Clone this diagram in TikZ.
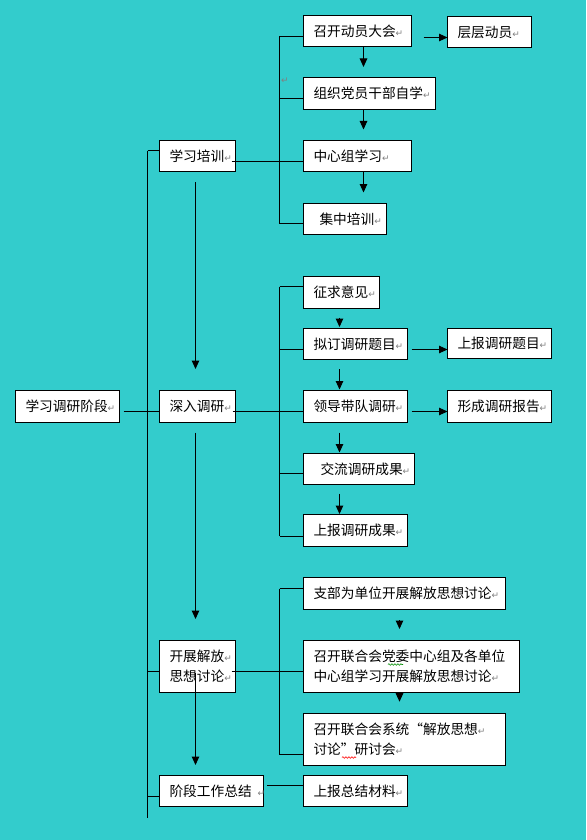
\documentclass[tikz,border=0pt]{standalone}
\usepackage{fontspec}
\newfontfamily\cjk{Noto Sans CJK SC}
\newfontfamily\dejavu{DejaVu Sans}
\usetikzlibrary{arrows.meta,calc,decorations.pathmorphing}
\definecolor{bg}{RGB}{51,204,204}
\definecolor{markgray}{RGB}{128,128,128}
\newcommand\retmark{{\dejavu\fontsize{9}{9}\selectfont\textcolor{markgray}{↵}}}
\begin{document}
\begin{tikzpicture}[x=1pt,y=-1pt,
  box/.style={draw, fill=white, line width=1pt, anchor=north west, inner xsep=10pt, inner ysep=0pt, outer sep=0pt, align=left, font=\cjk\fontsize{13.7}{20}\selectfont},
  ln/.style={line width=1pt},
  arr/.style={line width=1pt, -{Triangle[width=7.5pt,length=8.5pt]}},
  wavy/.style={line width=0.6pt, decorate, decoration={snake, amplitude=0.8pt, segment length=3pt}}]
\fill[bg] (0,0) rectangle (586,840);
\useasboundingbox (0,0) rectangle (586,840);

% boxes
\node[box, text width=84pt, minimum height=32pt] (A) at (15.5,390.5) {学习调研阶段\retmark};
\node[box, text width=56pt, minimum height=31pt] (B1) at (159.5,140.5) {学习培训\retmark};
\node[box, text width=56pt, minimum height=32pt] (B2) at (159.5,390.5) {深入调研\retmark};
\node[box, text width=56pt, minimum height=52pt] (B3) at (159.5,640.5) {开展解放\retmark\\思想讨论\retmark};
\node[box, text width=84pt, minimum height=31pt] (B4) at (159.5,775.5) {\mbox{阶段工作总结\kern6pt\retmark}};

\node[box, text width=88pt, minimum height=31pt] (C1) at (303.5,15.5) {召开动员大会\retmark};
\node[box, text width=112pt, minimum height=32pt] (C2) at (303.5,77.5) {组织党员干部自学\retmark};
\node[box, text width=88pt, minimum height=31pt] (C3) at (303.5,140.5) {中心组学习\retmark};
\node[box, text width=63pt, minimum height=31pt] (C4) at (303.5,203.5) {\mbox{\kern6pt集中培训\retmark}};
\node[box, text width=64pt, minimum height=31pt] (D1) at (447.5,16.5) {层层动员\retmark};

\node[box, text width=56pt, minimum height=32pt] (E1) at (303.5,276.5) {征求意见\retmark};
\node[box, text width=84pt, minimum height=31pt] (E2) at (303.5,328.5) {拟订调研题目\retmark};
\node[box, text width=84pt, minimum height=32pt] (E3) at (303.5,390.5) {领导带队调研\retmark};
\node[box, text width=91pt, minimum height=31pt] (E4) at (303.5,453.5) {\mbox{\kern7pt交流调研成果\retmark}};
\node[box, text width=84pt, minimum height=32pt] (E5) at (303.5,514.5) {上报调研成果\retmark};
\node[box, text width=84pt, minimum height=30pt] (F1) at (447.5,328.5) {上报调研题目\retmark};
\node[box, text width=84pt, minimum height=32pt] (F2) at (447.5,390.5) {形成调研报告\retmark};

\node[box, text width=182pt, minimum height=32pt] (G1) at (303.5,577.5) {支部为单位开展解放思想讨论\retmark};
\node[box, text width=196pt, minimum height=52pt] (G2) at (303.5,640.5) {召开联合会党委中心组及各单位\\中心组学习开展解放思想讨论\retmark};
\node[box, text width=182pt, minimum height=51.5pt] (G3) at (303.5,713.5) {召开联合会系统“解放思想\retmark\\讨论”研讨会\retmark};
\node[box, text width=84pt, minimum height=31pt] (G4) at (303.5,775.5) {上报总结材料\retmark};

% spine
\coordinate (s1) at (147.5,150.5);
\coordinate (s2) at (147.5,817.5);
\coordinate (lA) at (147.5,411.5);
\coordinate (lB3) at (147.5,671.5);
\coordinate (lB4) at (147.5,796.5);
\draw[ln] (s1) -- (s2);
\draw[ln] (s1) -- (s1 -| B1.west);
\draw[ln] ($(A.east |- lA)+(4,0)$) -- (lA) -- (lA -| B2.west);
\draw[ln] (lB3) -- (lB3 -| B3.west);
\draw[ln] (lB4) -- (lB4 -| B4.west);

% group C
\coordinate (c1) at (279.5,36.5);
\coordinate (c2) at (279.5,98.5);
\coordinate (c3) at (279.5,161.5);
\coordinate (c4) at (279.5,223.5);
\draw[ln] (c1) -- (c4);
\foreach \c/\n in {c1/C1,c2/C2,c3/C3,c4/C4} \draw[ln] (\c) -- (\c -| \n.west);
\draw[ln] ($(B1.east |- c3)+(-4,0)$) -- (c3);
\coordinate (xc) at (363.5,0);
\draw[arr] (C1.south -| xc) -- ($(C2.north -| xc)+(0,-10.5)$);
\draw[arr] (C2.south -| xc) -- ($(C3.north -| xc)+(0,-11)$);
\draw[arr] (C3.south -| xc) -- ($(C4.north -| xc)+(0,-11)$);
\coordinate (lD1) at (0,37.5);
\draw[arr] ($(C1.east |- lD1)+(12,0)$) -- (D1.west |- lD1);
\node[inner sep=0pt] (pm1) at (285,80.5) {\retmark};

% B column arrows
\coordinate (xb) at (195.5,0);
\draw[arr] ($(B1.south -| xb)+(0,10.5)$) -- ($(B2.north -| xb)+(0,-21.5)$);
\draw[arr] ($(B2.south -| xb)+(0,10)$) -- ($(B3.north -| xb)+(0,-21.5)$);
\draw[arr] ($(B3.north -| xb)+(0,32.5)$) -- ($(B4.north -| xb)+(0,-10.5)$);

% group E
\coordinate (e1) at (279.5,286.5);
\coordinate (e2) at (279.5,349.5);
\coordinate (e3) at (279.5,411.5);
\coordinate (e4) at (279.5,473.5);
\coordinate (e5) at (279.5,536);
\draw[ln] (e1) -- (e5);
\foreach \c/\n in {e1/E1,e2/E2,e3/E3,e4/E4,e5/E5} \draw[ln] (\c) -- (\c -| \n.west);
\draw[ln] ($(B2.east |- e3)+(-3,0)$) -- (e3);
\coordinate (xe) at (339.5,0);
\draw[arr] ($(E1.south -| xe)+(0,9)$) -- ($(E2.north -| xe)+(0,-1.5)$);
\draw[arr] ($(E2.south -| xe)+(0,9.5)$) -- ($(E3.north -| xe)+(0,-1)$);
\draw[arr] ($(E3.south -| xe)+(0,10)$) -- ($(E4.north -| xe)+(0,-1)$);
\draw[arr] ($(E4.south -| xe)+(0,9)$) -- ($(E5.north -| xe)+(0,-0.5)$);
\draw[arr] ($(E2.east |- e2)+(4,0)$) -- (F1.west |- e2);
\draw[arr] ($(E3.east |- e3)+(4,0)$) -- (F2.west |- e3);

% group G
\coordinate (g1) at (279.5,588.5);
\coordinate (g2) at (279.5,671.5);
\coordinate (g3) at (279.5,754.5);
\draw[ln] (g1) -- (g3);
\foreach \c/\n in {g1/G1,g2/G2,g3/G3} \draw[ln] (\c) -- (\c -| \n.west);
\draw[ln] ($(B3.east |- g2)+(-4,0)$) -- (g2);
\coordinate (xg) at (399.5,0);
\draw[arr] ($(G1.south -| xg)+(0,10.5)$) -- ($(G2.north -| xg)+(0,-11.5)$);
\draw[arr] (G2.south -| xg) -- ($(G3.north -| xg)+(0,-11.8)$);
\coordinate (lg4) at (0,785.5);
\draw[ln] ($(B4.east |- lg4)+(3.5,0)$) -- (G4.west |- lg4);

% spell-check marks
\draw[wavy, green!55!black] (388,664.5) -- (403,664.5);
\draw[wavy, red] (342,757.5) -- (356,757.5);
\end{tikzpicture}
\end{document}
